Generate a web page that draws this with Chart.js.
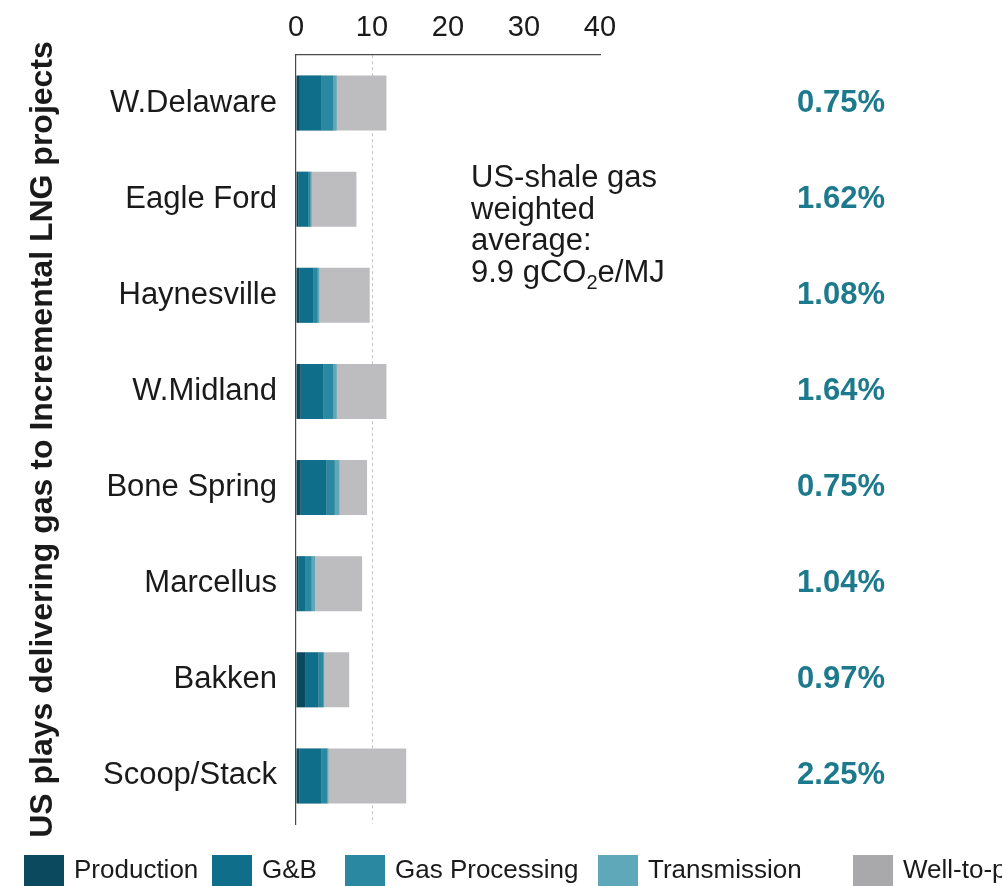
<!DOCTYPE html>
<html>
<head>
<meta charset="utf-8">
<title>US plays delivering gas to incremental LNG projects</title>
<script src="https://cdn.jsdelivr.net/npm/chart.js@4.4.1/dist/chart.umd.min.js"></script>
<style>
  html, body { margin: 0; padding: 0; background: #fff; overflow: hidden; }
  canvas { display: block; }
</style>
</head>
<body>
<canvas id="chart" width="1002" height="886"></canvas>
<script>
// Data (gCO2e/MJ)
const plays = ["W.Delaware", "Eagle Ford", "Haynesville", "W.Midland", "Bone Spring", "Marcellus", "Bakken", "Scoop/Stack"]
const production = [0.5, 0.3, 0.45, 0.6, 0.6, 0.3, 1.2, 0.45]
const gathering = [2.8, 1.3, 1.85, 3.0, 3.4, 0.9, 1.75, 2.9]
const processing = [1.6, 0.3, 0.55, 1.3, 1.1, 0.85, 0.65, 0.75]
const transmission = [0.45, 0.15, 0.2, 0.45, 0.6, 0.45, 0.1, 0.15]
const wellToPlant = [11.9, 7.95, 9.7, 11.9, 9.35, 8.7, 7.0, 14.5]
const leakRates = ["0.75%", "1.62%", "1.08%", "1.64%", "0.75%", "1.04%", "0.97%", "2.25%"]
const xTicks = [0, 10, 20, 30, 40]

const FONT = "'Liberation Sans', Arial, Helvetica, sans-serif"
const TEXT = "#1a1a1a"

// Leak-rate column on the right, one per play
const leakLabels = {
  id: "leakLabels",
  afterDatasetsDraw(chart) {
    const { ctx, scales: { y } } = chart
    ctx.save()
    ctx.font = "bold 31px " + FONT
    ctx.fillStyle = "#1d7a8d"
    ctx.textAlign = "right"
    ctx.textBaseline = "middle"
    leakRates.forEach((t, i) => ctx.fillText(t, 885, y.getPixelForValue(i)))
    ctx.restore()
  }
}

// "US-shale gas weighted average" note
const avgNote = {
  id: "avgNote",
  afterDatasetsDraw(chart) {
    const { ctx, chartArea } = chart
    const left = chartArea.left + 175
    const top = chartArea.top + 132
    const lh = 31.6
    ctx.save()
    ctx.fillStyle = TEXT
    ctx.textAlign = "left"
    ctx.textBaseline = "alphabetic"
    ctx.font = "31px " + FONT
    ;["US-shale gas", "weighted", "average:"].forEach((t, i) => ctx.fillText(t, left, top + i * lh))
    const base = top + 3 * lh
    let x = left
    ctx.fillText("9.9 gCO", x, base)
    x += ctx.measureText("9.9 gCO").width
    ctx.font = "20px " + FONT
    ctx.fillText("2", x, base + 7)
    x += ctx.measureText("2").width
    ctx.font = "31px " + FONT
    ctx.fillText("e/MJ", x, base)
    ctx.restore()
  }
}

// Legend along the bottom edge
const bottomLegend = {
  id: "bottomLegend",
  afterDraw(chart) {
    const { ctx } = chart
    const boxX = [24, 212, 345, 598, 853]
    ctx.save()
    ctx.font = "26px " + FONT
    ctx.textAlign = "left"
    ctx.textBaseline = "middle"
    chart.data.datasets.forEach((ds, i) => {
      ctx.fillStyle = ds.legendColor || ds.backgroundColor
      ctx.fillRect(boxX[i], 855, 40, 31)
      ctx.fillStyle = TEXT
      ctx.fillText(ds.label, boxX[i] + 50, 871)
    })
    ctx.restore()
  }
}

const ctx = document.getElementById("chart").getContext("2d")

new Chart(ctx, {
  type: "bar",
  data: {
    labels: plays,
    datasets: [
      { label: "Production", data: production, backgroundColor: "#0b4a5e", stack: "parts" },
      { label: "G&B", data: gathering, backgroundColor: "#0f6f8b", stack: "parts" },
      { label: "Gas Processing", data: processing, backgroundColor: "#2a88a1", stack: "parts" },
      { label: "Transmission", data: transmission, backgroundColor: "#5fa8b9", stack: "parts" },
      { label: "Well-to-plant", data: wellToPlant, backgroundColor: "#bdbdc0", legendColor: "#a9a9ac", stack: "total", order: 1 },
    ],
  },
  options: {
    responsive: false,
    animation: false,
    indexAxis: "y",
    datasets: {
      bar: {
        grouped: false,
        barPercentage: 0.572,
        categoryPercentage: 1,
        borderWidth: 0,
      },
    },
    layout: {
      padding: { left: 0, top: 0, right: 402, bottom: 62 },
    },
    plugins: {
      legend: { display: false },
      tooltip: { enabled: false },
    },
    scales: {
      x: {
        position: "top",
        stacked: true,
        min: 0,
        max: 40,
        z: 1,
        afterFit(scale) {
          scale.height = 55
        },
        afterBuildTicks(scale) {
          scale.ticks = xTicks.map((v) => ({ value: v }))
        },
        grid: {
          drawTicks: false,
          lineWidth: 1,
          color: (c) => (c.tick && c.tick.value === 10 ? "#c4c4c4" : "rgba(0,0,0,0)"),
        },
        border: { display: true, color: "#4a4a4a", width: 1.2, dash: [3, 3] },
        ticks: {
          font: { size: 29, family: FONT },
          color: TEXT,
          padding: 10,
          maxRotation: 0,
        },
      },
      y: {
        stacked: true,
        afterFit(scale) {
          scale.width = 296
        },
        grid: { display: false, drawTicks: false },
        border: { display: true, color: "#4a4a4a", width: 1.2 },
        ticks: {
          font: { size: 31, family: FONT },
          color: TEXT,
          padding: 19,
        },
        title: {
          display: true,
          text: "US plays delivering gas to Incremental LNG projects",
          font: { size: 32, weight: "bold", family: FONT },
          color: TEXT,
          padding: { top: 24, bottom: 0 },
        },
      },
    },
  },
  plugins: [leakLabels, avgNote, bottomLegend],
})
</script>
</body>
</html>
